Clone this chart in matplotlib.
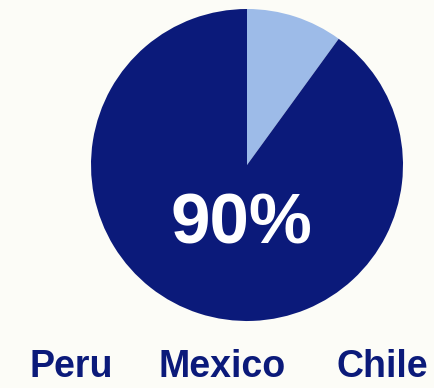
import matplotlib
matplotlib.use("Agg")
import matplotlib.pyplot as plt

# share of the total
labels = ["Other", "Peru, Mexico, Chile"]
shares = [10, 90]
countries = ["Peru", "Mexico", "Chile"]

navy = "#0b1a7a"
light = "#9dbbe8"
bg = "#fcfcf7"

W, H = 434, 388
fig = plt.figure(figsize=(W / 100, H / 100), dpi=100, facecolor=bg)
ax = fig.add_axes([0, 0, 1, 1])
ax.set_facecolor(bg)

# pie laid out in pixel units (y measured from the bottom)
ax.pie(shares, colors=[light, navy], startangle=90, counterclock=False,
       center=(247, H - 165), radius=156,
       wedgeprops=dict(linewidth=0))
ax.set_xlim(0, W)
ax.set_ylim(0, H)
ax.set_aspect("equal")
ax.axis("off")

ax.text(241, H - 243, f"{shares[1]}%", color="white", fontsize=51,
        fontweight="bold", family="Liberation Sans", ha="center", va="baseline")

for x, name in zip([71, 222, 382], countries):
    ax.text(x, H - 377, name, color=navy, fontsize=27, fontweight="bold",
            family="Liberation Sans", ha="center", va="baseline")

fig.savefig("out.png", dpi=100, facecolor=bg)
